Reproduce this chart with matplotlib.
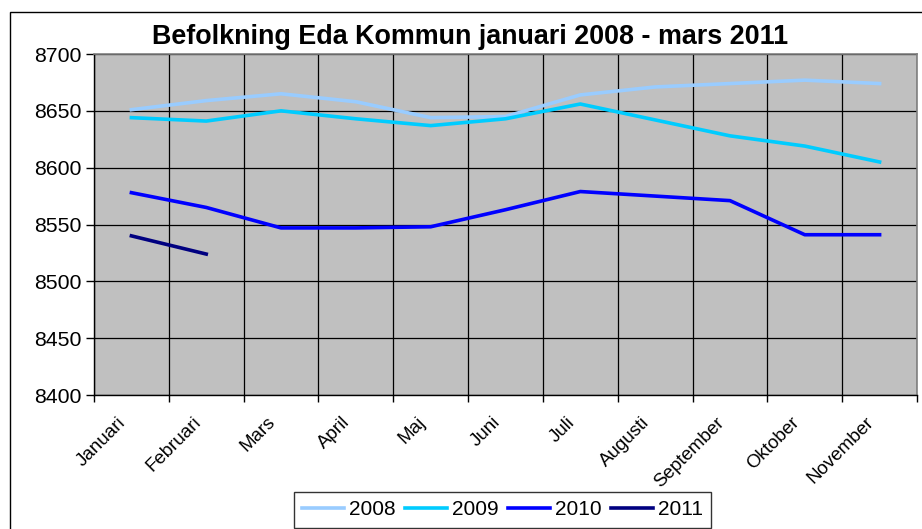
import matplotlib
matplotlib.use('Agg')
import matplotlib.pyplot as plt
from matplotlib.patches import Rectangle
from matplotlib.transforms import ScaledTranslation
import numpy as np

plt.rcParams['font.family'] = ['Liberation Sans', 'DejaVu Sans']

# data
months = ['Januari', 'Februari', 'Mars', 'April', 'Maj', 'Juni', 'Juli',
          'Augusti', 'September', 'Oktober', 'November']
pop_2008 = [8651, 8659, 8665, 8658, 8644, 8645, 8664, 8671, 8674, 8677, 8674]
pop_2009 = [8644, 8641, 8650, 8643, 8637, 8643, 8656, 8642, 8628, 8619, 8605]
pop_2010 = [8578, 8565, 8547, 8547, 8548, 8563, 8579, 8575, 8571, 8541, 8541]
pop_2011 = [8540, 8524]
years = ['2008', '2009', '2010', '2011']
colors = ['#99CCFF', '#00CCFF', '#0000FF', '#000080']

W, H = 922, 529
fig = plt.figure(figsize=(W / 100, H / 100), dpi=100)

# outer chart frame (runs off the right and bottom edge)
fig.patches.append(Rectangle((9.5 / W, -0.2), 1.2, (H - 12) / H + 0.2,
                             transform=fig.transFigure, fill=False,
                             edgecolor='black', linewidth=1.0))

ax = fig.add_axes([94 / W, (H - 395) / H, (917 - 94) / W, (395 - 54) / H])
ax.set_facecolor('#C0C0C0')

x = np.arange(len(months))
series = [pop_2008, pop_2009, pop_2010, pop_2011]
for yr, vals, c in zip(years, series, colors):
    ax.plot(x[:len(vals)], vals, color=c, linewidth=2.6, label=yr,
            solid_joinstyle='round', zorder=3)

ax.set_xlim(-0.5, len(months) - 0.5)
ax.set_ylim(8400, 8700)
ax.set_yticks(np.arange(8400, 8701, 50))

# category boundaries get the grid, centers get the labels
ax.set_xticks(np.arange(-0.5, len(months), 1.0))
ax.set_xticklabels([])
ax.set_xticks(x, minor=True)
ax.set_xticklabels(months, minor=True, rotation=45, ha='right',
                   rotation_mode='anchor', fontsize=13.5)
ax.tick_params(axis='x', which='minor', length=0, pad=10)
ax.tick_params(axis='x', which='major', length=5, width=1, direction='out')
ax.tick_params(axis='y', length=6, width=1, direction='out', labelsize=15.3, pad=3)
shift = ScaledTranslation(-14 / 100, -5 / 100, fig.dpi_scale_trans)
for lab in ax.get_xticklabels(minor=True):
    lab.set_transform(lab.get_transform() + shift)

ax.grid(True, which='major', color='black', linewidth=0.9)
ax.set_axisbelow(True)
for side in ['top', 'right']:
    ax.spines[side].set_color('#808080')
    ax.spines[side].set_linewidth(1.2)
for side in ['left', 'bottom']:
    ax.spines[side].set_color('black')
    ax.spines[side].set_linewidth(1.0)

fig.text(470 / W, (H - 37) / H, 'Befolkning Eda Kommun januari 2008 - mars 2011',
         ha='center', va='center', fontsize=19.4, fontweight='bold')

leg = fig.legend(loc='upper left', bbox_to_anchor=(294 / W, (H - 492) / H),
                 ncol=4, fontsize=15, frameon=True, fancybox=False,
                 edgecolor='black', handlelength=2.0, handletextpad=0.25,
                 columnspacing=0.45, borderpad=0.4, borderaxespad=0)
leg.get_frame().set_linewidth(1.0)

fig.savefig('out.png', dpi=100)
